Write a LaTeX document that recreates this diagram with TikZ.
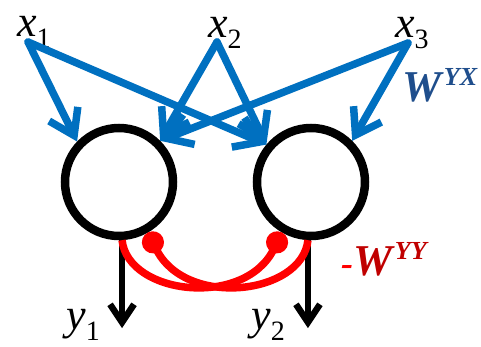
\documentclass[tikz,border=0pt]{standalone}
\usepackage{fontspec}
\setmainfont{Liberation Serif}
\usetikzlibrary{arrows.meta}
\definecolor{wire}{HTML}{0070C0}
\definecolor{navy}{HTML}{1F4E8C}
\definecolor{inhib}{HTML}{FF0000}
\definecolor{darkred}{HTML}{C00000}
\newcommand{\varlab}[2]{\textit{#1}\raisebox{-11pt}{\fontsize{28}{28}\selectfont #2}}
\newcommand{\wlab}[1]{\textbf{\textit{W}}\raisebox{16pt}{\fontsize{26}{26}\selectfont\bfseries\itshape #1}}

\begin{document}
\begin{tikzpicture}[x=1pt,y=-1pt,font=\fontsize{44}{44}\selectfont,
  neuron/.style={circle,draw,line width=8.5pt,minimum size=108pt,inner sep=0pt},
  feed/.style={wire,line width=7.5pt,line cap=round,-{Straight Barb[length=24pt,width=32pt]}},
  outarrow/.style={black,line width=6.5pt,-{Straight Barb[length=18pt,width=24pt]}},
  inh/.style={inhib,line width=7.5pt,-{Circle[length=22pt]}},
  lab/.style={anchor=base west,inner sep=0pt}]
 \useasboundingbox (0,0) rectangle (481,347);
 \node[neuron] (n1) at (119,182) {};
 \node[neuron] (n2) at (311,182) {};
 \node[lab] (x1) at (17,37) {\varlab{x}{1}};
 \node[lab] (x2) at (208,38) {\varlab{x}{2}};
 \node[lab] (x3) at (395,38) {\varlab{x}{3}};
 \node[lab] (y1) at (66,329) {\varlab{y}{1}};
 \node[lab] (y2) at (251,329) {\varlab{y}{2}};
 \node[lab,text=navy] (wyx) at (402,102) {\wlab{YX}};
 \node[lab,text=darkred] (wyy) at (341,275)
   {\textcolor{inhib}{\fontsize{36}{36}\selectfont\bfseries\itshape -}\wlab{YY}};
 % feed-forward weights
 \draw[feed] ([shift={(11,5)}]x1.base west) -- (n1.136);
 \draw[feed] ([shift={(11,5)}]x1.base west) -- (n2.140);
 \draw[feed] ([shift={(9,4)}]x2.base west) -- (n1.45);
 \draw[feed] ([shift={(9,4)}]x2.base west) -- (n2.140);
 \draw[feed] ([shift={(13,5)}]x3.base west) -- (n1.45);
 \draw[feed] ([shift={(13,5)}]x3.base west) -- (n2.45);
 % outputs
 \draw[outarrow] (n1.-87) -- ++(0,88);
 \draw[outarrow] (n2.-93) -- ++(0,88);
 % lateral inhibition
 \draw[inh] (n1.-87) .. controls +(6,55) and +(-37,76) .. (n2.240);
 \draw[inh] (n2.-93) .. controls +(-6,55) and +(37,76) .. (n1.-60);
\end{tikzpicture}
\end{document}
